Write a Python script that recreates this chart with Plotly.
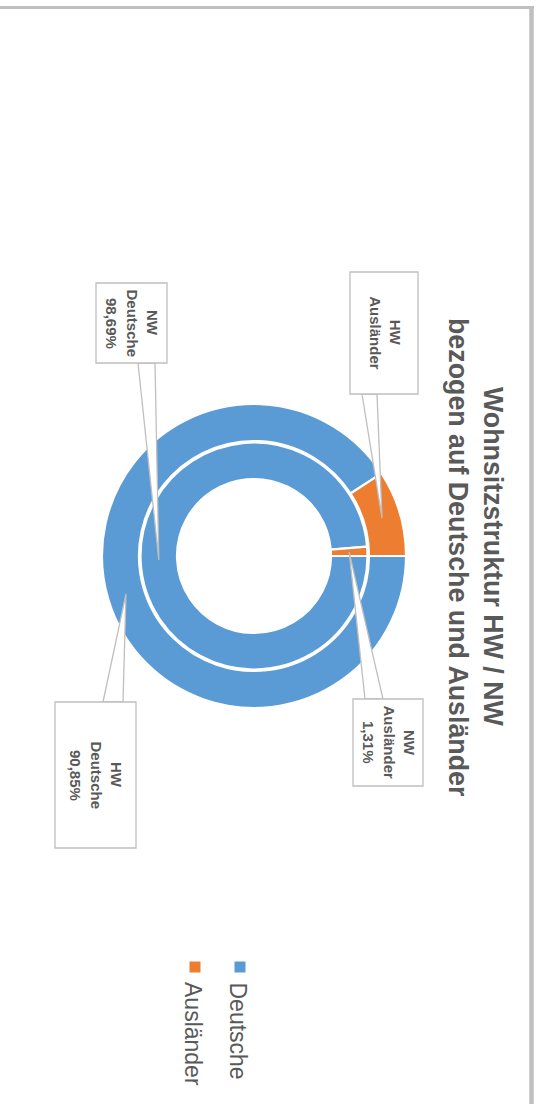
import math
import plotly.graph_objects as go

# ---------------- data ----------------
categories = ["Deutsche", "Ausländer"]
hw_values = [90.85, 9.15]     # Hauptwohnsitz (outer ring)
nw_values = [98.69, 1.31]     # Nebenwohnsitz (inner ring)
colors = ["#5B9BD5", "#ED7D31"]
title_lines = ["Wohnsitzstruktur HW / NW", "bezogen auf Deutsche und Ausländer"]
label_texts = {
    ("HW", 0): ["HW", "Deutsche", "90,85%"],
    ("HW", 1): ["HW", "Ausländer"],
    ("NW", 0): ["NW", "Deutsche", "98,69%"],
    ("NW", 1): ["NW", "Ausländer", "1,31%"],
}

# ---------------- layout constants (pixels) ----------------
W, H = 539, 1104
CX, CY = 254, 556
R_OUT, R_OUT_IN = 152, 115
R_IN, R_IN_IN = 113.5, 77
FONT = "Liberation Sans, Arial, sans-serif"
GREY = "#595959"
BORDER = "#BFBFBF"

def px(x):
    return x / W

def py(y):
    return 1 - y / H

def domain(r):
    return dict(x=[px(CX - r), px(CX + r)], y=[py(CY + r), py(CY - r)])

fig = go.Figure()
fig.add_trace(go.Pie(
    labels=categories, values=hw_values, sort=False, direction="clockwise",
    rotation=90, hole=R_OUT_IN / R_OUT, domain=domain(R_OUT),
    marker=dict(colors=colors, line=dict(color="white", width=2.2)),
    textinfo="none", hoverinfo="skip", showlegend=False, name="HW"))
fig.add_trace(go.Pie(
    labels=categories, values=nw_values, sort=False, direction="clockwise",
    rotation=90, hole=R_IN_IN / R_IN, domain=domain(R_IN),
    marker=dict(colors=colors, line=dict(color="white", width=2.2)),
    textinfo="none", hoverinfo="skip", showlegend=False, name="NW"))

# slice mid-points (leader line tips) from data
def tip(values, idx, r_mid):
    tot = sum(values)
    start = sum(values[:idx]) / tot
    end = start + values[idx] / tot
    th = math.radians(90 + 360 * (start + end) / 2)
    return CX + r_mid * math.sin(th), CY - r_mid * math.cos(th)

ring_mid = {"HW": (R_OUT + R_OUT_IN) / 2, "NW": (R_IN + R_IN_IN) / 2}
ring_vals = {"HW": hw_values, "NW": nw_values}

# label boxes: (x0, y0, x1, y1), pointer base y, base x-coordinates
boxes = {
    ("HW", 1): ((350, 272, 418, 394), 394, (362, 377)),
    ("NW", 1): ((353, 699, 423, 786), 699, (365, 383)),
    ("NW", 0): ((96, 283, 167, 363), 363, (138, 155)),
    ("HW", 0): ((55, 702, 136, 848), 702, (103, 123)),
}

shapes = []
annotations = []
for key, (rect, base_y, (bx1, bx2)) in boxes.items():
    ring, idx = key
    tx, ty = tip(ring_vals[ring], idx, ring_mid[ring])
    shapes.append(dict(
        type="path", xref="paper", yref="paper", layer="above",
        path=f"M {px(bx1)} {py(base_y)} L {px(tx)} {py(ty)} L {px(bx2)} {py(base_y)} Z",
        fillcolor="white", line=dict(color=BORDER, width=1.3)))
for key, (rect, base_y, _) in boxes.items():
    x0, y0, x1, y1 = rect
    shapes.append(dict(
        type="rect", xref="paper", yref="paper", layer="above",
        x0=px(x0), x1=px(x1), y0=py(y1), y1=py(y0),
        fillcolor="white", line=dict(color=BORDER, width=1.3)))
    lines = label_texts[key]
    n = len(lines)
    cxb = (x0 + x1) / 2 + 1
    cyb = (y0 + y1) / 2
    step = 20.5
    for i, t in enumerate(lines):
        lx = cxb + (n - 1) / 2 * step - i * step
        annotations.append(dict(
            x=px(lx), y=py(cyb), xref="paper", yref="paper", text=f"<b>{t}</b>",
            showarrow=False, textangle=90, xanchor="center", yanchor="middle",
            font=dict(family=FONT, size=15, color=GREY)))

# title
for t, x in zip(title_lines, [493, 458]):
    annotations.append(dict(
        x=px(x), y=py(557), xref="paper", yref="paper", text=f"<b>{t}</b>",
        showarrow=False, textangle=90, xanchor="center", yanchor="middle",
        font=dict(family=FONT, size=26.8, color=GREY)))

# legend (drawn manually because the chart is rotated)
leg_x = [240, 195]
for c, col, lx in zip(categories, colors, leg_x):
    shapes.append(dict(type="rect", xref="paper", yref="paper", layer="above",
                       x0=px(lx - 5.5), x1=px(lx + 5.5), y0=py(972.5), y1=py(961.5),
                       fillcolor=col, line=dict(width=0)))
    annotations.append(dict(
        x=px(lx - 2), y=py(980), xref="paper", yref="paper", text=c,
        showarrow=False, textangle=90, xanchor="center", yanchor="top",
        font=dict(family=FONT, size=23, color=GREY)))

# chart area border (cropped)
shapes.append(dict(type="line", xref="paper", yref="paper", layer="above",
                   x0=px(0), x1=px(534), y0=py(7.5), y1=py(7.5),
                   line=dict(color=BORDER, width=3)))
shapes.append(dict(type="line", xref="paper", yref="paper", layer="above",
                   x0=px(531.5), x1=px(531.5), y0=py(6), y1=py(H),
                   line=dict(color=BORDER, width=4.5)))

fig.update_layout(
    width=W, height=H, margin=dict(l=0, r=0, t=0, b=0),
    paper_bgcolor="white", plot_bgcolor="white",
    shapes=shapes, annotations=annotations, showlegend=False)

fig.write_html("out.html", config={"displayModeBar": False},
               post_script="document.body.style.margin='0';document.body.style.overflow='hidden';")
